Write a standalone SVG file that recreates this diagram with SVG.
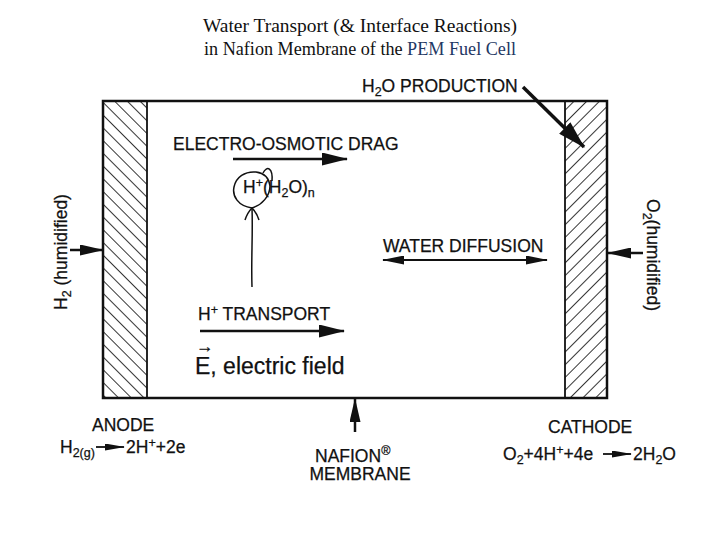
<svg xmlns="http://www.w3.org/2000/svg" width="720" height="540" viewBox="0 0 720 540">
<style>
.t{font-family:"Liberation Sans",Arial,sans-serif;font-size:17.5px;fill:#111;stroke:#111;stroke-width:0.25}
.big{font-size:23px}
.ttl{font-family:"Liberation Serif","Times New Roman",serif;font-size:19px;fill:#111}
.blue{fill:#1f3864}
.ln{stroke:#111;fill:none}
.frame{stroke:#111;stroke-width:2.5;fill:#fff}
.band{stroke:#111;stroke-width:1.8}
.hatch{stroke:#111;stroke-width:1.7}
</style>
<defs>
<pattern id="hatchL" width="9" height="9" patternUnits="userSpaceOnUse" patternTransform="rotate(-45)"><line class="hatch" x1="0" y1="-1" x2="0" y2="10"/></pattern>
<pattern id="hatchR" width="9" height="9" patternUnits="userSpaceOnUse" patternTransform="rotate(45)"><line class="hatch" x1="0" y1="-1" x2="0" y2="10"/></pattern>
<marker id="aBig" markerUnits="userSpaceOnUse" viewBox="0 0 26 13" markerWidth="26" markerHeight="13" refX="25" refY="6.5" orient="auto"><path d="M0,0 L26,6.5 L0,13 Z" fill="#111"/></marker>
<marker id="aProd" markerUnits="userSpaceOnUse" viewBox="0 0 28 16" markerWidth="28" markerHeight="16" refX="27" refY="8" orient="auto"><path d="M0,0 L28,8 L0,16 Z" fill="#111"/></marker>
<marker id="aMed" markerUnits="userSpaceOnUse" viewBox="0 0 24 11" markerWidth="24" markerHeight="11" refX="23" refY="5.5" orient="auto"><path d="M0,0 L24,5.5 L0,11 Z" fill="#111"/></marker>
<marker id="aWD" markerUnits="userSpaceOnUse" viewBox="0 0 22 9" markerWidth="22" markerHeight="9" refX="21" refY="4.5" orient="auto-start-reverse"><path d="M0,0 L22,4.5 L0,9 Z" fill="#111"/></marker>
<marker id="aSm" markerUnits="userSpaceOnUse" viewBox="0 0 20 7" markerWidth="20" markerHeight="7" refX="19" refY="3.5" orient="auto"><path d="M0,0 L20,3.5 L0,7 Z" fill="#111"/></marker>
</defs>

<g id="title">
<text class="ttl" x="360" y="32" text-anchor="middle" textLength="314" lengthAdjust="spacingAndGlyphs">Water Transport (&amp; Interface Reactions)</text>
<text class="ttl" x="360" y="55" text-anchor="middle" textLength="312" lengthAdjust="spacingAndGlyphs">in Nafion Membrane of the <tspan class="blue">PEM Fuel Cell</tspan></text>
</g>

<g id="membrane">
<rect class="frame" x="103" y="101" width="504" height="297"/>
</g>
<g id="anode-band">
<rect class="band" x="103" y="101" width="44" height="297" fill="url(#hatchL)"/>
</g>
<g id="cathode-band">
<rect class="band" x="565" y="101" width="42" height="297" fill="url(#hatchR)"/>
</g>

<g id="labels">
<text class="t" x="362" y="92">H<tspan font-size="12.5" dy="4">2</tspan><tspan dy="-4">O PRODUCTION</tspan></text>
<text class="t" x="173" y="150">ELECTRO-OSMOTIC DRAG</text>
<text class="t" x="243" y="193">H<tspan font-size="12.5" dy="-6">+</tspan><tspan dy="6">(H</tspan><tspan font-size="12.5" dy="4">2</tspan><tspan dy="-4">O)</tspan><tspan font-size="12.5" dy="4">n</tspan></text>
<text class="t" x="383" y="252">WATER DIFFUSION</text>
<text class="t" x="198" y="320">H<tspan font-size="12.5" dy="-6">+</tspan><tspan dy="6"> TRANSPORT</tspan></text>
<text class="t big" x="195" y="374">E, electric field</text>
<text class="t" x="196" y="352" font-size="12">→</text>
<text class="t" transform="translate(67,252) rotate(-90)" text-anchor="middle" font-size="18">H<tspan font-size="12.5" dy="4">2</tspan><tspan dy="-4"> (humidified)</tspan></text>
<text class="t" transform="translate(647,255) rotate(90)" text-anchor="middle" font-size="18">O<tspan font-size="12.5" dy="4">2</tspan><tspan dy="-4">(humidified)</tspan></text>
</g>

<g id="anode">
<text class="t" x="92" y="431">ANODE</text>
<text class="t" x="60" y="453">H<tspan font-size="12.5" dy="4">2(g)</tspan></text>
<text class="t" x="126" y="453">2H<tspan font-size="12.5" dy="-6">+</tspan><tspan dy="6">+2e</tspan></text>
</g>

<g id="nafion">
<text class="t" x="315" y="462">NAFION<tspan font-size="12.5" dy="-7">®</tspan></text>
<text class="t" x="360" y="480" text-anchor="middle">MEMBRANE</text>
</g>

<g id="cathode">
<text class="t" x="548" y="433">CATHODE</text>
<text class="t" x="503" y="460">O<tspan font-size="12.5" dy="4">2</tspan><tspan dy="-4">+4H</tspan><tspan font-size="12.5" dy="-6">+</tspan><tspan dy="6">+4e</tspan></text>
<text class="t" x="633" y="460">2H<tspan font-size="12.5" dy="4">2</tspan><tspan dy="-4">O</tspan></text>
</g>

<g id="connectors">
<line class="ln" x1="523" y1="87" x2="584" y2="147" stroke-width="3.5" marker-end="url(#aProd)"/>
<line class="ln" x1="233" y1="159" x2="347" y2="159" stroke-width="2.5" marker-end="url(#aBig)"/>
<line class="ln" x1="383" y1="260" x2="547" y2="260" stroke-width="1.8" marker-start="url(#aWD)" marker-end="url(#aWD)"/>
<line class="ln" x1="200" y1="331" x2="344" y2="331" stroke-width="2.5" marker-end="url(#aBig)"/>
<line class="ln" x1="355" y1="432" x2="355" y2="399" stroke-width="2.5" marker-end="url(#aMed)"/>
<line class="ln" x1="70" y1="250" x2="103" y2="250" stroke-width="2.5" marker-end="url(#aMed)"/>
<line class="ln" x1="643" y1="253" x2="608" y2="253" stroke-width="2.5" marker-end="url(#aMed)"/>
<line class="ln" x1="96" y1="447" x2="124" y2="447" stroke-width="1.8" marker-end="url(#aSm)"/>
<line class="ln" x1="603" y1="454" x2="631" y2="454" stroke-width="1.8" marker-end="url(#aSm)"/>
<path class="ln" stroke-width="1.5" d="M252,208 C238,206 232,196 234,187 C236,177 245,171 256,172 C264,173 269,178 270,186 C270,196 262,205 252,208"/>
<path class="ln" stroke-width="1.5" d="M263,173 C267,165 273,168 272,181"/>
<path class="ln" stroke-width="1.5" d="M252,287 C251,260 253,235 252,208"/>
<path class="ln" stroke-width="1.5" d="M245,220 C247,214 250,210 252,208 C254,210 257,214 259,220"/>
</g>
</svg>
